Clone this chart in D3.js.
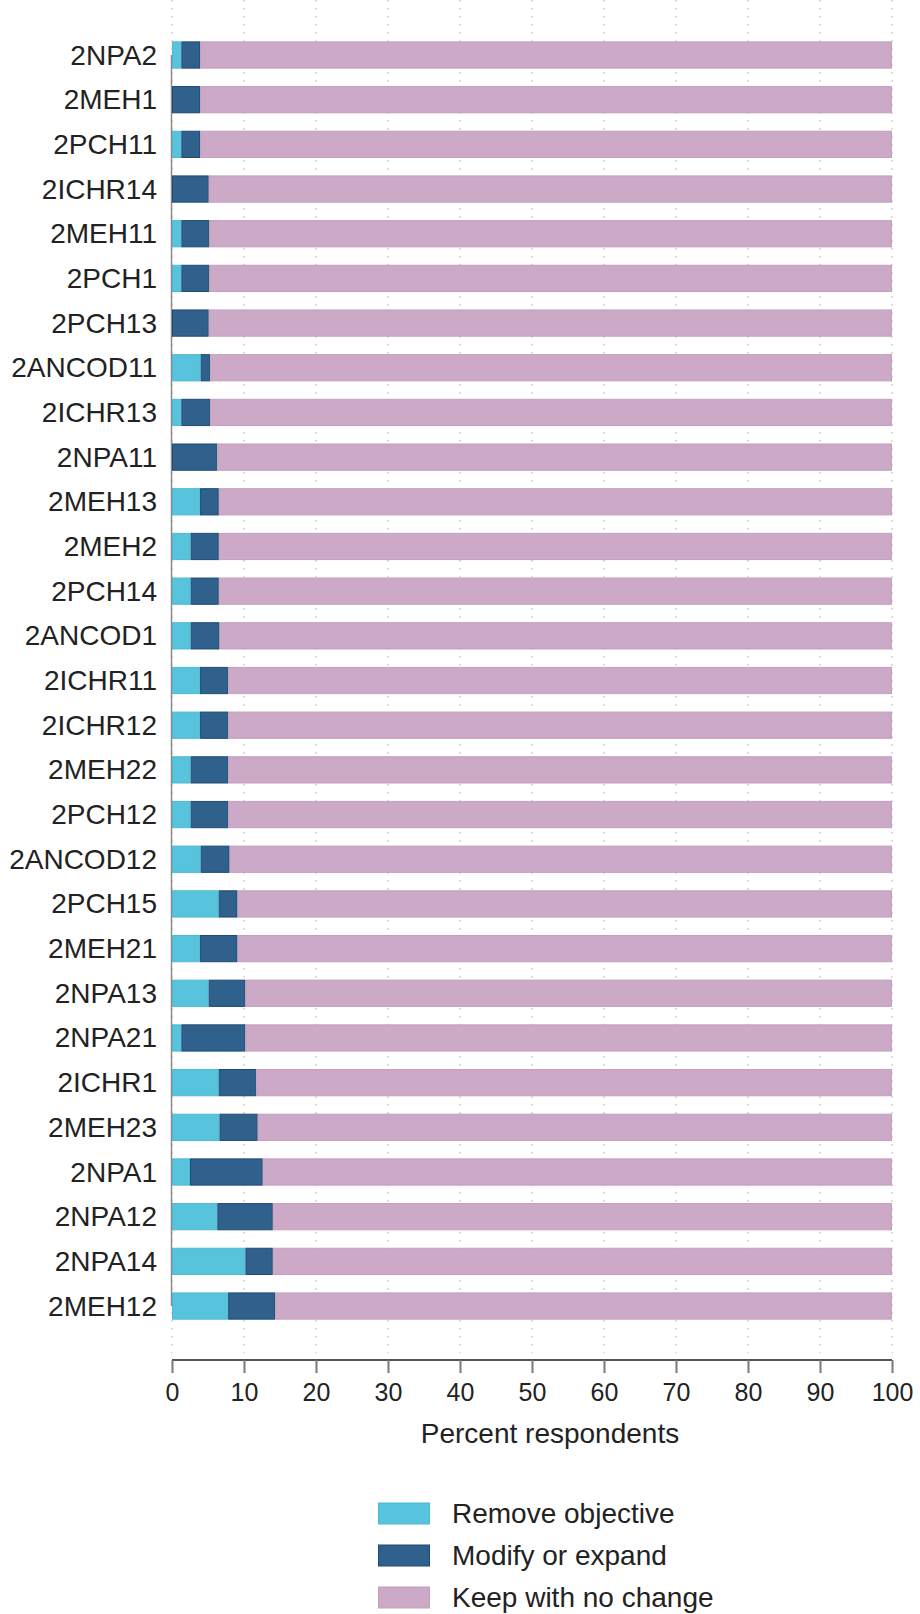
<!DOCTYPE html>
<html>
<head>
<meta charset="utf-8">
<script src="https://cdn.jsdelivr.net/npm/d3@7"></script>
<style>
html,body{margin:0;padding:0;background:#fff;}
svg{display:block;}
text{font-family:"Liberation Sans",Arial,Helvetica,sans-serif;fill:#222;}
</style>
</head>
<body>
<svg id="chart" width="920" height="1614"></svg>
<script>
const categories = ["2NPA2","2MEH1","2PCH11","2ICHR14","2MEH11","2PCH1","2PCH13","2ANCOD11","2ICHR13","2NPA11","2MEH13","2MEH2","2PCH14","2ANCOD1","2ICHR11","2ICHR12","2MEH22","2PCH12","2ANCOD12","2PCH15","2MEH21","2NPA13","2NPA21","2ICHR1","2MEH23","2NPA1","2NPA12","2NPA14","2MEH12"];
const removeObjective = [1.3,0,1.3,0,1.3,1.3,0,4.0,1.3,0,3.9,2.6,2.6,2.6,3.9,3.9,2.6,2.6,4.0,6.5,3.9,5.1,1.3,6.5,6.6,2.5,6.3,10.2,7.8];
const modifyOrExpand  = [2.6,3.9,2.6,5.1,3.9,3.9,5.1,1.3,4.0,6.3,2.6,3.9,3.9,4.0,3.9,3.9,5.2,5.2,4.0,2.6,5.2,5.1,8.9,5.2,5.3,10.1,7.7,3.8,6.5];
const keepNoChange    = [96.1,96.1,96.1,94.9,94.8,94.8,94.9,94.7,94.7,93.7,93.5,93.5,93.5,93.4,92.2,92.2,92.2,92.2,92.0,90.9,90.9,89.8,89.8,88.3,88.1,87.4,86.0,86.0,85.7];
const seriesNames = ["Remove objective","Modify or expand","Keep with no change"];
const xTicks = [0,10,20,30,40,50,60,70,80,90,100];
const xTitle = "Percent respondents";

const fills   = ["#58c3dc","#30608c","#cda9c8"];
const strokes = ["#4fb9d3","#1f4b75","#c39fbe"];

const svg = d3.select("#chart");
const left = 172, right = 892;
const x = d3.scaleLinear().domain([0,100]).range([left,right]);
const step = 44.68, firstCenter = 55;
const y = d3.scaleBand().domain(categories)
  .range([firstCenter - step/2, firstCenter - step/2 + step*categories.length])
  .paddingInner(0.39).paddingOuter(0.195);

const rows = categories.map((c,i)=>({cat:c, r:removeObjective[i], m:modifyOrExpand[i], k:keepNoChange[i]}));
const stack = d3.stack().keys(["r","m","k"]);
const series = stack(rows);

// gridlines
svg.append("g").selectAll("line").data(xTicks).join("line")
  .attr("x1",d=>x(d)).attr("x2",d=>x(d))
  .attr("y1",0).attr("y2",1353)
  .attr("stroke","#c8c8c8").attr("stroke-width",1.2)
  .attr("stroke-dasharray","2,6");

// y axis line
const yc0 = y(categories[0]) + y.bandwidth()/2;
const yc1 = y(categories[categories.length-1]) + y.bandwidth()/2;
svg.append("line").attr("x1",left-0.5).attr("x2",left-0.5)
  .attr("y1",yc0).attr("y2",yc1)
  .attr("stroke","#8a8a8a").attr("stroke-width",1.5);

// bars
svg.append("g").selectAll("g").data(series).join("g")
  .attr("fill",(d,i)=>fills[i]).attr("stroke",(d,i)=>strokes[i])
  .selectAll("rect").data(d=>d).join("rect")
  .attr("x",d=>x(d[0])+0.5)
  .attr("width",d=>Math.max(0,x(d[1])-x(d[0])-1))
  .attr("y",d=>y(d.data.cat)+0.5)
  .attr("height",y.bandwidth()-1)
  .attr("stroke-width",d=>(d[1]-d[0])>0?1:0);

// y labels
svg.append("g").selectAll("text").data(categories).join("text")
  .attr("x",157).attr("y",d=>y(d)+y.bandwidth()/2)
  .attr("text-anchor","end").attr("dominant-baseline","central")
  .attr("font-size",28).text(d=>d);

// x axis
const xAxis = d3.axisBottom(x).tickValues(xTicks).tickSize(13).tickPadding(10).tickFormat(d3.format("d"));
const gx = svg.append("g").attr("transform","translate(0,1360)").call(xAxis);
gx.select(".domain").attr("stroke","#555").attr("stroke-width",2).attr("d",`M${left},0H${right}`);
gx.selectAll(".tick line").attr("stroke","#777").attr("stroke-width",2);
gx.selectAll(".tick text").attr("font-size",25).attr("fill","#222")
  .attr("font-family","'Liberation Sans',Arial,sans-serif");

svg.append("text").attr("x",550).attr("y",1433)
  .attr("text-anchor","middle").attr("dominant-baseline","central")
  .attr("font-size",28).text(xTitle);

// legend
const lg = svg.append("g");
seriesNames.forEach((n,i)=>{
  const cy = 1513.5 + i*42;
  lg.append("rect").attr("x",378.5).attr("y",cy-10.5).attr("width",51).attr("height",21)
    .attr("fill",fills[i]).attr("stroke",strokes[i]).attr("stroke-width",1);
  lg.append("text").attr("x",452).attr("y",cy).attr("dominant-baseline","central")
    .attr("font-size",28).text(n);
});
</script>
</body>
</html>
